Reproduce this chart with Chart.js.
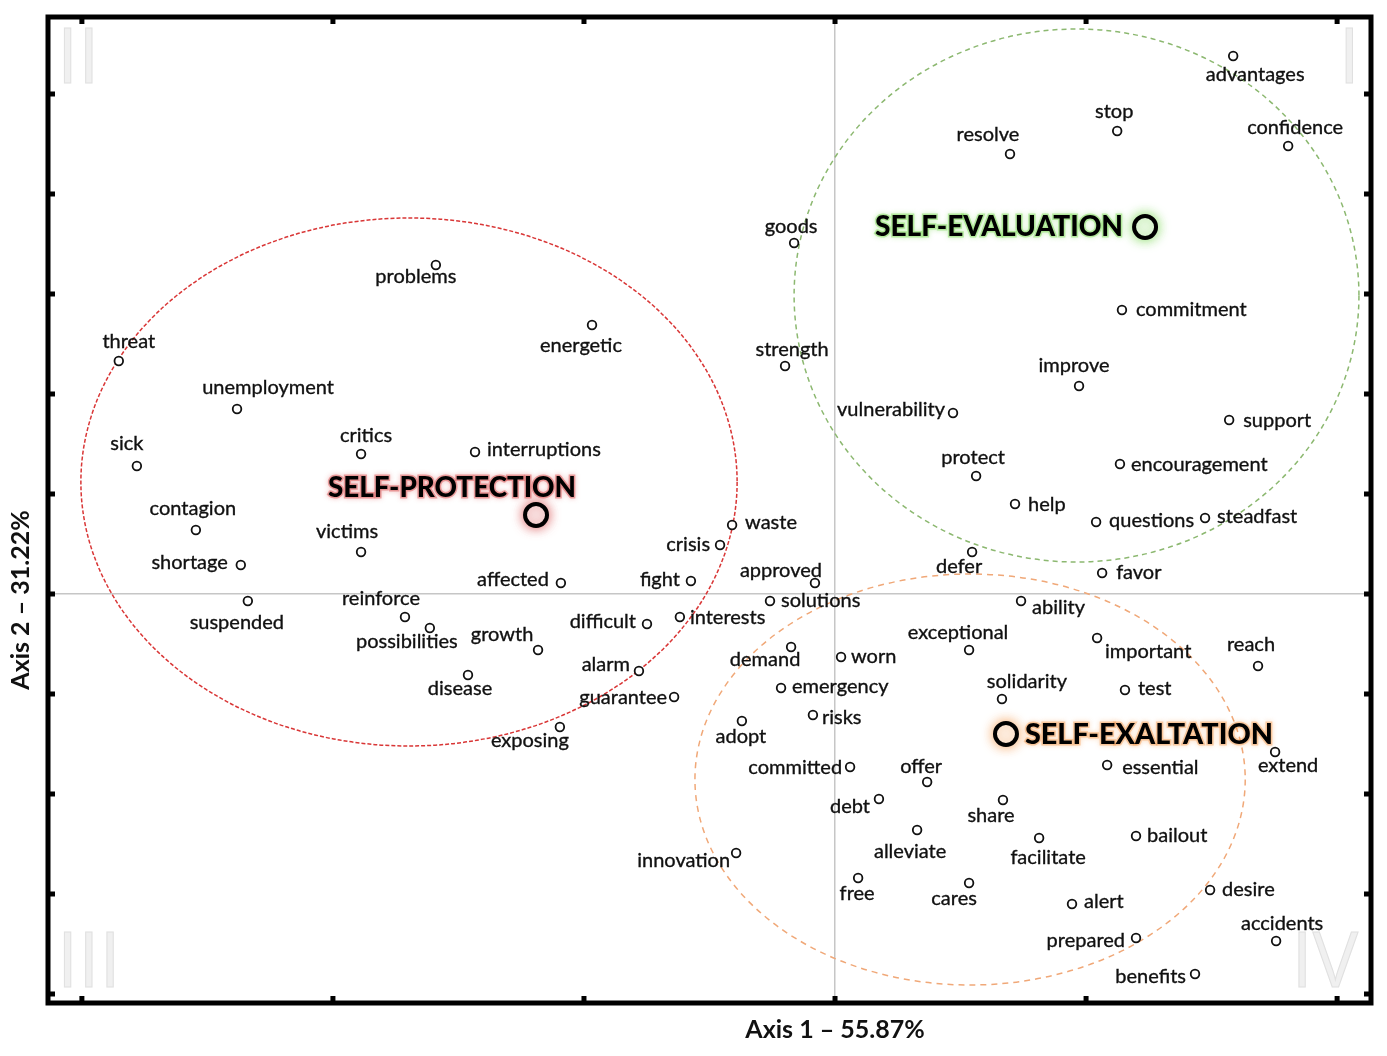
<!DOCTYPE html>
<html>
<head>
<title>Correspondence map</title>
<script src="https://cdn.jsdelivr.net/npm/chart.js"></script>
<style>
  body { margin: 0; background: #fff; }
  #wrap { width: 1387px; height: 1056px; }
</style>
</head>
<body>
<div id="wrap"><canvas id="mapChart" width="1387" height="1056"></canvas></div>
<script>
// words and their coordinates on axis 1 / axis 2
var words = ["problems", "energetic", "threat", "unemployment", "sick", "critics", "interruptions",
  "contagion", "victims", "shortage", "suspended", "reinforce", "possibilities", "growth", "disease",
  "affected", "waste", "crisis", "fight", "approved", "solutions", "interests", "difficult", "demand",
  "worn", "alarm", "emergency", "guarantee", "risks", "exposing", "adopt", "committed", "debt",
  "innovation", "goods", "strength", "vulnerability", "advantages", "stop", "resolve", "confidence",
  "commitment", "improve", "support", "protect", "encouragement", "help", "questions", "steadfast",
  "defer", "favor", "ability", "exceptional", "important", "reach", "solidarity", "test", "extend",
  "essential", "offer", "share", "bailout", "alleviate", "facilitate", "free", "cares", "desire",
  "alert", "accidents", "prepared", "benefits"];

var wordX = [-1.590, -0.968, -2.853, -2.382, -2.781, -1.888, -1.434,
  -2.546, -1.888, -2.367, -2.339, -1.713, -1.614, -1.183, -1.462,
  -1.092, -0.410, -0.458, -0.574, -0.080, -0.259, -0.618, -0.749, -0.175,
  0.024, -0.781, -0.215, -0.641, -0.088, -1.096, -0.371, 0.060, 0.175,
  -0.394, -0.163, -0.199, 0.470, 1.586, 1.124, 0.697, 1.805,
  1.143, 0.972, 1.570, 0.562, 1.135, 0.717, 1.040, 1.474,
  0.546, 1.064, 0.741, 0.534, 1.044, 1.685, 0.665, 1.155, 1.753,
  1.084, 0.367, 0.669, 1.199, 0.327, 0.813, 0.092, 0.534, 1.494,
  0.944, 1.757, 1.199, 1.434];

var wordY = [3.29, 2.69, 2.33, 1.85, 1.28, 1.40, 1.42,
  0.64, 0.42, 0.29, -0.07, -0.23, -0.34, -0.56, -0.81,
  0.11, 0.69, 0.49, 0.13, 0.11, -0.07, -0.23, -0.30, -0.53,
  -0.63, -0.77, -0.94, -1.03, -1.21, -1.33, -1.27, -1.73, -2.05,
  -2.59, 3.51, 2.28, 1.81, 5.38, 4.63, 4.40, 4.48,
  2.84, 2.08, 1.74, 1.18, 1.30, 0.90, 0.72, 0.76,
  0.42, 0.21, -0.07, -0.56, -0.44, -0.72, -1.05, -0.96, -1.58,
  -1.71, -1.88, -2.06, -2.42, -2.36, -2.44, -2.84, -2.89, -2.96,
  -3.10, -3.47, -3.44, -3.80];

// where each word label sits next to its marker: align, dx, dy (px)
var labelPlace = [["c", -20, 12], ["c", -11, 21], ["c", 10, -19], ["c", 31, -21], ["c", -10, -22], ["c", 5, -18], ["L", 12, -2],
  ["c", -3, -21], ["c", -14, -20], ["R", -13, -2], ["c", -11, 22], ["c", -24, -18], ["c", -23, 14], ["c", -36, -15], ["c", -8, 14],
  ["R", -12, -3], ["L", 13, -2], ["R", -10, 0], ["R", -11, -1], ["c", -34, -12], ["L", 11, 0], ["L", 10, 1], ["R", -11, -2], ["c", -26, 13],
  ["L", 10, 0], ["R", -9, -6], ["L", 11, -1], ["R", -7, 1], ["L", 9, 3], ["c", -30, 14], ["c", -1, 16], ["R", -8, 1], ["R", -9, 8],
  ["R", -6, 8], ["c", -3, -16], ["c", 7, -16], ["R", -8, -3], ["c", 22, 19], ["c", -3, -19], ["c", -22, -19], ["c", 7, -18],
  ["L", 14, 0], ["c", -5, -20], ["L", 14, 1], ["c", -3, -18], ["L", 11, 1], ["L", 13, 1], ["L", 13, -1], ["L", 12, -1],
  ["c", -13, 15], ["L", 14, 0], ["L", 11, 7], ["c", -11, -17], ["c", 51, 14], ["c", -7, -21], ["c", 25, -17], ["L", 13, -1], ["c", 13, 14],
  ["L", 15, 3], ["c", -6, -15], ["c", -12, 16], ["L", 11, 0], ["c", -7, 22], ["c", 9, 20], ["c", -1, 16], ["c", -15, 16], ["L", 12, 0],
  ["L", 12, -2], ["c", 6, -17], ["R", -11, 3], ["R", -9, 3]];

// group centroids
var groupNames = ["SELF-PROTECTION", "SELF-EVALUATION", "SELF-EXALTATION"];
var groupX = [-1.191, 1.235, 0.681];
var groupY = [0.79, 3.67, -1.40];
var groupLabelPlace = [["c", -84, -27], ["R", -22, 0], ["L", 19, 1]];
var groupGlow = ["rgba(215,70,70,0.8)", "rgba(120,215,80,0.85)", "rgba(245,155,80,0.85)"];

// dashed group ellipses (centre and radii in axis units)
var ellipseX = [-1.697, 0.962, 0.538];
var ellipseY = [1.12, 2.985, -1.855];
var ellipseRX = [1.307, 1.125, 1.096];
var ellipseRY = [2.64, 2.665, 2.055];
var ellipseColor = ["#d93636", "#8cb870", "#f0a878"];
var ellipseDash = [[4, 2], [5, 4], [6, 5]];

var xTicks = [-3, -2, -1, 0, 1, 2];
var yTicks = [-4, -3, -2, -1, 0, 1, 2, 3, 4, 5];

var wordPoints = words.map(function(w, i) { return { x: wordX[i], y: wordY[i] }; });

var groupSets = groupNames.map(function(name, i) {
  return {
    label: name,
    data: [{ x: groupX[i], y: groupY[i] }],
    pointRadius: 11,
    pointHoverRadius: 11,
    pointBorderWidth: 4,
    pointBorderColor: "#000",
    pointBackgroundColor: "#fff",
    glow: groupGlow[i]
  };
});

var mapPlugin = {
  id: "mapExtras",
  beforeDatasetsDraw: function(chart) {
    var ctx = chart.ctx;
    var xs = chart.scales.x, ys = chart.scales.y;
    ctx.save();
    // quadrant numerals
    ctx.font = '76px "Open Sans"';
    ctx.fillStyle = "#f0f0f0";
    ctx.strokeStyle = "#e0e0e0";
    ctx.lineWidth = 1;
    ctx.textBaseline = "alphabetic";
    ctx.textAlign = "left";
    ctx.fillText("II", 57, 83); ctx.strokeText("II", 57, 83);
    ctx.fillText("III", 57, 987); ctx.strokeText("III", 57, 987);
    ctx.textAlign = "right";
    ctx.fillText("I", 1360, 83); ctx.strokeText("I", 1360, 83);
    ctx.fillText("IV", 1358, 987); ctx.strokeText("IV", 1358, 987);

    // ellipses
    for (var i = 0; i < ellipseX.length; i++) {
      var cx = xs.getPixelForValue(ellipseX[i]);
      var cy = ys.getPixelForValue(ellipseY[i]);
      var rx = xs.getPixelForValue(ellipseX[i] + ellipseRX[i]) - cx;
      var ry = cy - ys.getPixelForValue(ellipseY[i] + ellipseRY[i]);
      ctx.beginPath();
      ctx.setLineDash(ellipseDash[i]);
      ctx.strokeStyle = ellipseColor[i];
      ctx.lineWidth = 1.5;
      ctx.ellipse(cx, cy, rx, ry, 0, 0, Math.PI * 2);
      ctx.stroke();
    }
    ctx.restore();
  },
  beforeDatasetDraw: function(chart, args) {
    var ds = chart.data.datasets[args.index];
    if (ds.glow) {
      chart.ctx.save();
      chart.ctx.shadowColor = ds.glow;
      chart.ctx.shadowBlur = 12;
    }
  },
  afterDatasetDraw: function(chart, args) {
    var ds = chart.data.datasets[args.index];
    if (ds.glow) chart.ctx.restore();
  },
  afterDatasetsDraw: function(chart) {
    var ctx = chart.ctx;
    ctx.save();
    ctx.font = '20px Lato';
    ctx.fillStyle = "#111";
    ctx.strokeStyle = "#111";
    ctx.lineWidth = 0.35;
    ctx.textBaseline = "middle";
    var meta = chart.getDatasetMeta(0);
    meta.data.forEach(function(pt, i) {
      var p = labelPlace[i];
      ctx.textAlign = p[0] === "c" ? "center" : (p[0] === "L" ? "left" : "right");
      ctx.fillText(words[i], pt.x + p[1], pt.y + p[2]);
      ctx.strokeText(words[i], pt.x + p[1], pt.y + p[2]);
    });

    // centroid labels with a soft halo
    ctx.font = '900 28px Lato';
    for (var g = 0; g < groupNames.length; g++) {
      var el = chart.getDatasetMeta(g + 1).data[0];
      var lp = groupLabelPlace[g];
      var w = ctx.measureText(groupNames[g]).width;
      var sx = 248 / w;
      var sw = w * sx;
      var left = lp[0] === "c" ? el.x + lp[1] - sw / 2 : (lp[0] === "L" ? el.x + lp[1] : el.x + lp[1] - sw);
      ctx.save();
      ctx.translate(left, el.y + lp[2]);
      ctx.scale(sx, 1);
      ctx.textAlign = "left";
      ctx.shadowColor = groupGlow[g];
      ctx.shadowBlur = 5;
      ctx.lineWidth = 3;
      ctx.strokeStyle = groupGlow[g].replace(/[\d.]+\)$/, "0.45)");
      ctx.strokeText(groupNames[g], 0, 0);
      ctx.shadowBlur = 0;
      ctx.fillStyle = "#000";
      ctx.fillText(groupNames[g], 0, 0);
      ctx.restore();
    }
    ctx.restore();
  },
  afterDraw: function(chart) {
    var ctx = chart.ctx, a = chart.chartArea;
    var xs = chart.scales.x, ys = chart.scales.y;
    ctx.save();
    ctx.strokeStyle = "#000";
    ctx.lineWidth = 5;
    ctx.strokeRect(a.left, a.top, a.right - a.left, a.bottom - a.top);
    ctx.fillStyle = "#000";
    xTicks.forEach(function(v) {
      var px = xs.getPixelForValue(v);
      ctx.fillRect(px - 2.5, a.top, 5, 7);
      ctx.fillRect(px - 2.5, a.bottom - 7, 5, 7);
    });
    yTicks.forEach(function(v) {
      var py = ys.getPixelForValue(v);
      ctx.fillRect(a.left, py - 2.5, 7, 5);
      ctx.fillRect(a.right - 7, py - 2.5, 7, 5);
    });

    // axis titles
    ctx.fillStyle = "#111";
    ctx.font = 'bold 25px Lato';
    ctx.textAlign = "center";
    ctx.textBaseline = "middle";
    ctx.fillText("Axis 1 \u2013 55.87%", xs.getPixelForValue(0), 1030);
    ctx.translate(21, 600);
    ctx.rotate(-Math.PI / 2);
    ctx.fillText("Axis 2 \u2013 31.22%", 0, 0);
    ctx.restore();
  }
};

function zeroLine(ctx) {
  return ctx.tick && ctx.tick.value === 0 ? "#c6c6c6" : "rgba(0,0,0,0)";
}

new Chart(document.getElementById("mapChart"), {
  type: "scatter",
  data: {
    datasets: [{
      label: "words",
      data: wordPoints,
      pointRadius: 4.3,
      pointHoverRadius: 4.3,
      pointBorderWidth: 1.8,
      pointBorderColor: "#111",
      pointBackgroundColor: "#fff"
    }].concat(groupSets)
  },
  options: {
    responsive: false,
    animation: false,
    layout: { padding: { left: 48, right: 16, top: 17, bottom: 53 } },
    scales: {
      x: {
        type: "linear", min: -3.135, max: 2.135,
        ticks: { display: false, stepSize: 1 },
        grid: { drawTicks: false, color: zeroLine, lineWidth: 1.5 },
        border: { display: false }
      },
      y: {
        type: "linear", min: -4.09, max: 5.77,
        ticks: { display: false, stepSize: 1 },
        grid: { drawTicks: false, color: zeroLine, lineWidth: 1.5 },
        border: { display: false }
      }
    },
    plugins: {
      legend: { display: false },
      tooltip: { enabled: false }
    }
  },
  plugins: [mapPlugin]
});
</script>
</body>
</html>
